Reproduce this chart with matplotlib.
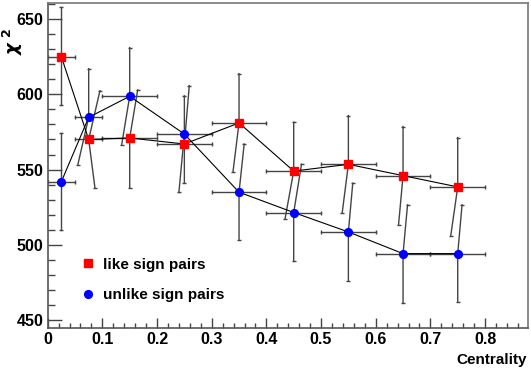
import numpy as np
import matplotlib
matplotlib.use("Agg")
import matplotlib.pyplot as plt
from matplotlib.ticker import MultipleLocator, FixedLocator, FixedFormatter
from matplotlib.lines import Line2D

plt.rcParams['font.family'] = ['Liberation Sans', 'DejaVu Sans']
plt.rcParams['font.weight'] = 'bold'

# centrality bins
centrality = [0.025, 0.075, 0.15, 0.25, 0.35, 0.45, 0.55, 0.65, 0.75]
centrality_err = [0.025, 0.025, 0.05, 0.05, 0.05, 0.05, 0.05, 0.05, 0.05]

# like sign pairs: value, error-bar ends (y) and where the ends sit (x)
like_chi2 = [625, 570, 571, 567, 581, 549, 553.5, 546, 538.5]
like_hi = [658, 602.4, 602.9, 605.8, 613.7, 581.5, 585.9, 578.6, 571.3]
like_lo = [593, 537.7, 538, 541, 548.7, 517, 521, 513.5, 506.2]
like_hi_x = [0.025, 0.0956, 0.1646, 0.259, 0.35, 0.45, 0.55, 0.65, 0.75]
like_lo_x = [0.025, 0.0865, 0.15, 0.25, 0.339, 0.434, 0.5386, 0.6418, 0.7373]

# unlike sign pairs
unlike_chi2 = [542, 584.7, 598.7, 573.6, 535, 521.5, 508.6, 494.2, 494.2]
unlike_hi = [574.6, 617, 631, 599, 567, 553.6, 541, 526.6, 526.6]
unlike_lo = [510, 553, 566.4, 534.8, 503, 489, 476.3, 461.7, 461.9]
unlike_hi_x = [0.025, 0.075, 0.15, 0.25, 0.3594, 0.4643, 0.558, 0.6582, 0.7579]
unlike_lo_x = [0.025, 0.055, 0.1353, 0.240, 0.35, 0.45, 0.55, 0.65, 0.75]

ERR_COL = '#444444'


def draw_errors(ax, x, xe, y, lo, hi, lo_x, hi_x):
    for i in range(len(x)):
        ax.plot([x[i] - xe[i], x[i] + xe[i]], [y[i], y[i]], color=ERR_COL, lw=1.0,
                zorder=2, clip_on=True)
        ax.plot([x[i] - xe[i], x[i] + xe[i]], [y[i], y[i]], ls='none', marker='|',
                ms=3.5, mew=1.0, color=ERR_COL, zorder=2)
        ax.plot([lo_x[i], x[i], hi_x[i]], [lo[i], y[i], hi[i]], color=ERR_COL, lw=1.0, zorder=2)
        ax.plot([lo_x[i], hi_x[i]], [lo[i], hi[i]], ls='none', marker='_',
                ms=3.5, mew=1.0, color=ERR_COL, zorder=2)


fig = plt.figure(figsize=(5.31, 3.69), dpi=100)
ax = fig.add_axes([0.0898, 0.1119, 0.904, 0.879])

draw_errors(ax, centrality, centrality_err, like_chi2, like_lo, like_hi, like_lo_x, like_hi_x)
draw_errors(ax, centrality, centrality_err, unlike_chi2, unlike_lo, unlike_hi, unlike_lo_x, unlike_hi_x)

ax.plot(centrality, like_chi2, color='black', lw=0.8, zorder=3)
ax.plot(centrality, unlike_chi2, color='black', lw=0.8, zorder=3)
ax.plot(centrality, like_chi2, ls='none', marker='s', ms=5.8, color='red', mec='red', zorder=4)
ax.plot(centrality, unlike_chi2, ls='none', marker='o', ms=5.6, color='blue', mec='blue', zorder=4)

ax.set_xlim(0, 0.878)
ax.set_ylim(445, 660.4)

ax.xaxis.set_major_locator(FixedLocator([0, 0.1, 0.2, 0.3, 0.4, 0.5, 0.6, 0.7, 0.8]))
ax.xaxis.set_major_formatter(FixedFormatter(['0', '0.1', '0.2', '0.3', '0.4', '0.5', '0.6', '0.7', '0.8']))
ax.xaxis.set_minor_locator(MultipleLocator(0.02))
ax.yaxis.set_major_locator(MultipleLocator(50))
ax.yaxis.set_minor_locator(MultipleLocator(10))

ax.tick_params(axis='x', which='major', direction='in', length=7, width=1.0, pad=3,
               labelsize=11.5, colors='#444444', labelcolor='black')
ax.tick_params(axis='x', which='minor', direction='in', length=3.5, width=1.0, colors='#444444')
ax.tick_params(axis='y', which='major', direction='in', length=10.4, width=1.0, pad=3,
               labelsize=11.5, colors='#444444', labelcolor='black')
ax.tick_params(axis='y', which='minor', direction='in', length=5.2, width=1.0, colors='#444444')
ax.tick_params(top=False, right=False)

for side in ['left', 'bottom']:
    ax.spines[side].set_color('#555555')
    ax.spines[side].set_linewidth(1.2)
for side in ['top', 'right']:
    ax.spines[side].set_color('#777777')
    ax.spines[side].set_linewidth(1.2)

fig.text(0.992, 0.024, 'Centrality', ha='right', va='center', fontsize=11, fontweight='bold')
fig.text(0.024, 0.925, r'$\chi^{\ 2}$', rotation=90, ha='center', va='top', fontsize=13)

handles = [Line2D([], [], ls='none', marker='s', ms=5.8, color='red'),
           Line2D([], [], ls='none', marker='o', ms=5.6, color='blue')]
ax.legend(handles, ['like sign pairs', 'unlike sign pairs'], loc='upper left',
          bbox_to_anchor=(0.055, 0.24), frameon=False, fontsize=11, handlelength=0.8,
          handletextpad=0.6, labelspacing=1.1, borderpad=0)

fig.savefig('out.png', dpi=100)
